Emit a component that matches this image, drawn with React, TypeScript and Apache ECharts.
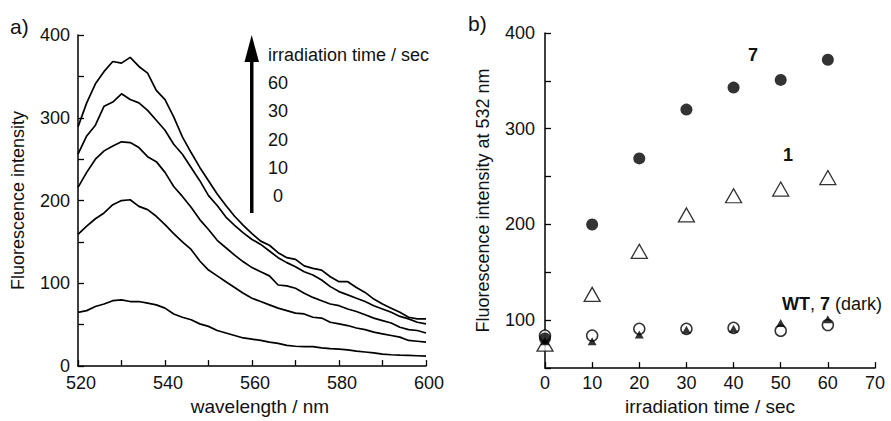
import React, { useEffect, useRef } from "react";
import * as echarts from "echarts";

const FONT = '"Liberation Sans", Arial, Helvetica, sans-serif';

// Panel a: emission spectra (wavelength every 2 nm)
const wavelengths = Array.from({ length: 41 }, (_, i) => 520 + i * 2);
const spec60 = [289, 318, 341, 356, 368, 366, 373, 362, 354, 333, 322, 301, 277, 258, 240, 224, 208, 194, 181, 170, 160, 151, 146, 137, 131, 129, 121, 118, 116, 108, 102, 102, 95, 89, 81, 75, 70, 65, 59, 57, 57];
const spec30 = [256, 278, 291, 314, 319, 329, 322, 318, 309, 297, 285, 268, 256, 240, 224, 206, 194, 180, 170, 161, 153, 147, 139, 131, 125, 120, 114, 110, 104, 96, 90, 86, 82, 78, 73, 69, 65, 60, 57, 53, 51];
const spec20 = [216, 234, 250, 260, 266, 271, 270, 264, 253, 247, 234, 217, 205, 192, 177, 165, 152, 143, 134, 126, 119, 114, 109, 98, 97, 94, 88, 83, 79, 75, 73, 69, 66, 62, 58, 55, 52, 47, 44, 43, 40];
const spec10 = [159, 169, 178, 185, 195, 200, 201, 193, 189, 181, 171, 160, 150, 141, 127, 116, 109, 102, 95, 88, 82, 78, 74, 70, 67, 64, 63, 59, 58, 53, 51, 49, 46, 44, 41, 39, 37, 35, 31, 30, 29];
const spec0 = [65, 67, 72, 75, 79, 80, 78, 78, 76, 74, 70, 63, 59, 56, 51, 48, 43, 40, 37, 34, 32.5, 31, 29, 27.5, 25, 24, 23.5, 23.5, 22, 21, 20.5, 19.5, 18, 17, 16, 14.5, 13.7, 13.3, 13, 12.5, 12];
const legendTimes = ["60", "30", "20", "10", "0"];

// Panel b: intensity at 532 nm vs irradiation time
const times = [0, 10, 20, 30, 40, 50, 60];
const cmpd7 = [81, 200, 269, 320, 343, 351, 372];
const cmpd1 = [75, 127, 172, 210, 230, 237, 249];
const wt = [84, 84, 91, 91, 92, 89, 95];
const cmpd7dark = [78, 78, 85, 90, 91, 97, 101];

export default function App() {
  const ref = useRef<HTMLDivElement>(null);
  useEffect(() => {
    if (!ref.current) return;
    const chart = echarts.init(ref.current, undefined, { renderer: "svg" });
    const axisLine = { show: true, lineStyle: { color: "#000", width: 1.5 } };
    const axisTick = { show: true, inside: true, length: 6, lineStyle: { color: "#000", width: 1.3 } };
    const labelStyle = { color: "#111", fontSize: 18, lineHeight: 14, fontFamily: FONT };
    const yNameStyle = { color: "#111", fontSize: 18, fontFamily: FONT };
    const xNameStyle = { color: "#111", fontSize: 19, fontFamily: FONT };
    const spec = (arr: number[]) => wavelengths.map((w, i) => [w, arr[i]]);
    const pts = (arr: number[]) => times.map((t, i) => [t, arr[i]]);
    const lineSeries = [spec60, spec30, spec20, spec10, spec0].map((arr, k) => ({
      type: "line",
      name: legendTimes[k],
      xAxisIndex: 0,
      yAxisIndex: 0,
      data: spec(arr),
      showSymbol: false,
      lineStyle: { color: "#000", width: 1.7 },
    }));
    const legendGraphics: any[] = legendTimes.map((t, i) => ({
      type: "text",
      x: t === "0" ? 273 : 268,
      y: 83 + i * 28.3,
      style: { text: t, font: `18px ${FONT}`, fill: "#111", verticalAlign: "middle" },
    }));
    chart.setOption({
      animation: false,
      grid: [
        { left: 78, top: 35, width: 348, height: 340 },
        { left: 545, top: 33, width: 330, height: 344 },
      ],
      xAxis: [
        {
          type: "value", gridIndex: 0, min: 520, max: 600, interval: 10,
          axisLine, axisTick, splitLine: { show: false },
          axisLabel: { ...labelStyle, margin: 10, padding: [0, 0, 0, 6], formatter: (v: number) => (v % 20 === 0 ? String(v) : "") },
          name: "wavelength / nm", nameLocation: "middle", nameGap: 29,
          nameTextStyle: { ...xNameStyle, padding: [0, 0, 0, 16] },
        },
        {
          type: "value", gridIndex: 1, min: 0, max: 70, interval: 10,
          axisLine, axisTick, splitLine: { show: false },
          axisLabel: { ...labelStyle, margin: 8 },
          name: "irradiation time / sec", nameLocation: "middle", nameGap: 27,
          nameTextStyle: xNameStyle,
        },
      ],
      yAxis: [
        {
          type: "value", gridIndex: 0, min: 0, max: 400, interval: 50,
          axisLine, axisTick, splitLine: { show: false },
          axisLabel: { ...labelStyle, margin: 8, formatter: (v: number) => (v % 100 === 0 ? String(v) : "") },
          name: "Fluorescence intensity", nameLocation: "middle", nameGap: 51,
          nameTextStyle: yNameStyle,
        },
        {
          type: "value", gridIndex: 1, min: 50, max: 400, interval: 50,
          axisLine, axisTick, splitLine: { show: false },
          axisLabel: { ...labelStyle, margin: 10, formatter: (v: number) => (v % 100 === 0 ? String(v) : "") },
          name: "Fluorescence intensity at 532 nm", nameLocation: "middle", nameGap: 53,
          nameTextStyle: yNameStyle,
        },
      ],
      series: [
        ...lineSeries,
        {
          type: "scatter", name: "1", xAxisIndex: 1, yAxisIndex: 1, data: pts(cmpd1),
          symbol: "triangle", symbolSize: [16, 14],
          itemStyle: { color: "#fff", borderColor: "#000", borderWidth: 1.3 },
        },
        {
          type: "scatter", name: "WT", xAxisIndex: 1, yAxisIndex: 1, data: pts(wt),
          symbol: "circle", symbolSize: 11,
          itemStyle: { color: "#fff", borderColor: "#000", borderWidth: 1.5 },
        },
        {
          type: "scatter", name: "7 (dark)", xAxisIndex: 1, yAxisIndex: 1, data: pts(cmpd7dark),
          symbol: "triangle", symbolSize: [9, 8],
          itemStyle: { color: "#000" },
        },
        {
          type: "scatter", name: "7", xAxisIndex: 1, yAxisIndex: 1, data: pts(cmpd7),
          symbol: "circle", symbolSize: 12,
          itemStyle: { color: "#000" },
        },
      ],
      graphic: [
        { type: "text", x: 10, y: 26, style: { text: "a)", font: `21px ${FONT}`, fill: "#111", verticalAlign: "middle" } },
        { type: "text", x: 468, y: 23, style: { text: "b)", font: `21px ${FONT}`, fill: "#111", verticalAlign: "middle" } },
        { type: "rect", shape: { x: 250, y: 55, width: 3.5, height: 158 }, style: { fill: "#000" } },
        { type: "polygon", shape: { points: [[251.7, 35], [244.5, 62], [259, 62]] }, style: { fill: "#000" } },
        { type: "text", x: 268, y: 55, style: { text: "irradiation time / sec", font: `18px ${FONT}`, fill: "#111", verticalAlign: "middle" } },
        ...legendGraphics,
        { type: "text", x: 753, y: 55, style: { text: "7", font: `bold 18px ${FONT}`, fill: "#111", align: "center", verticalAlign: "middle" } },
        { type: "text", x: 788, y: 155, style: { text: "1", font: `bold 18px ${FONT}`, fill: "#111", align: "center", verticalAlign: "middle" } },
        {
          type: "text", x: 782, y: 304,
          style: {
            text: "{b|WT}, {b|7} (dark)",
            font: `18px ${FONT}`, fill: "#111", verticalAlign: "middle",
            rich: { b: { fontWeight: "bold", fontSize: 18, fontFamily: FONT, fill: "#111" } },
          },
        },
      ],
    });
    return () => chart.dispose();
  }, []);
  return <div ref={ref} style={{ position: "fixed", left: 0, top: 0, width: 891, height: 421, background: "#fff" }} />;
}
